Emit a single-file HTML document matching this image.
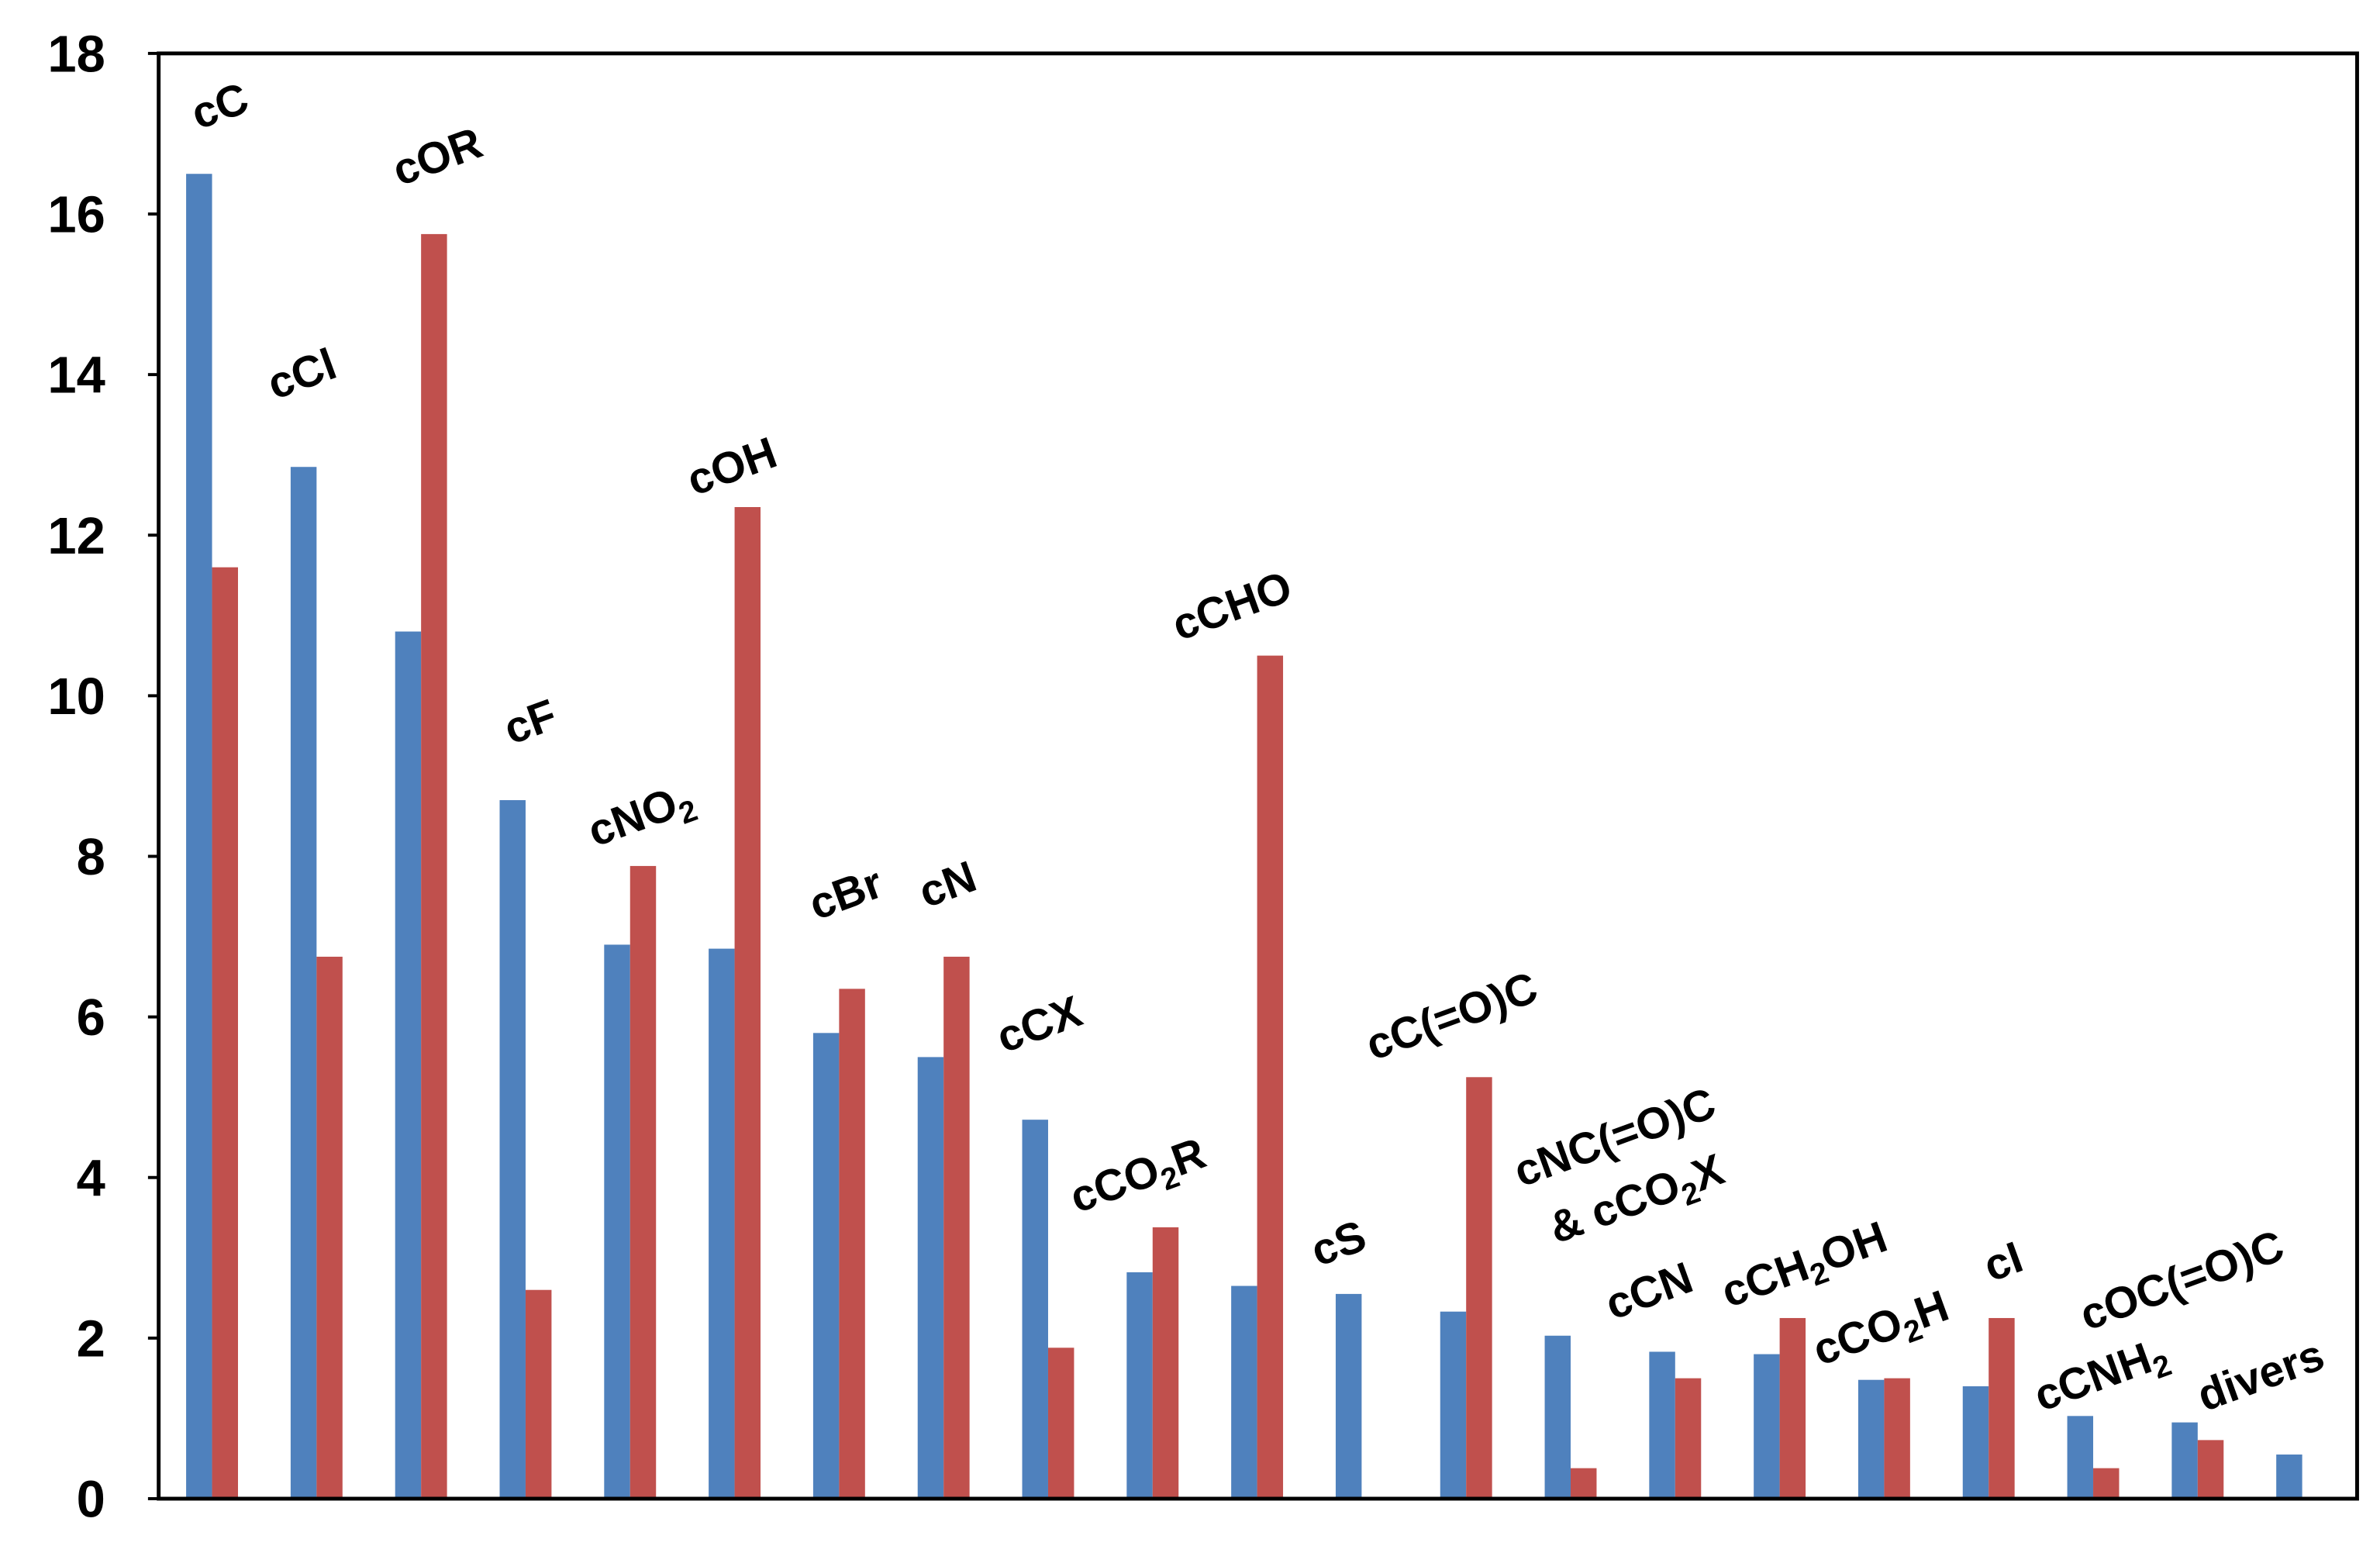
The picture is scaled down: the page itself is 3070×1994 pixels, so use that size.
<!DOCTYPE html>
<html><head><meta charset="utf-8"><style>
html,body{margin:0;padding:0;background:#fff;}
svg{display:block;font-family:"Liberation Sans",sans-serif;font-weight:bold;}
</style></head><body>
<svg id="chart" width="3070" height="1994" viewBox="0 0 1560 1013" preserveAspectRatio="none">
<g id="bars"></g>
<g id="yticks"></g>
<g id="labels"></g>
<rect x="104" y="35" width="1441" height="947" fill="none" stroke="#000" stroke-width="2.5"/>
</svg>
<script>
const categories=["cC","cCl","cOR","cF","cNO2","cOH","cBr","cN","cCX","cCO2R","cCHO","cS","cC(=O)C","cNC(=O)C & cCO2X","cCN","cCH2OH","cCO2H","cI","cCNH2","cOC(=O)C","divers"];
const blueValues=[16.5,12.85,10.8,8.7,6.9,6.85,5.8,5.5,4.72,2.82,2.65,2.55,2.33,2.03,1.83,1.8,1.48,1.4,1.03,0.95,0.55];
const redValues=[11.6,6.75,15.75,2.6,7.88,12.35,6.35,6.75,1.88,3.38,10.5,0,5.25,0.38,1.5,2.25,1.5,2.25,0.38,0.73,0];
const yTicks=[0,2,4,6,8,10,12,14,16,18];
const labelTexts=['cC','cCl','cOR','cF','cNO<tspan font-size="20" dy="6">2</tspan>','cOH','cBr','cN','cCX','cCO<tspan font-size="20" dy="6">2</tspan><tspan dy="-6">R</tspan>','cCHO','cS','cC(=O)C','cNC(=O)C','cCN','cCH<tspan font-size="20" dy="6">2</tspan><tspan dy="-6">OH</tspan>','cCO<tspan font-size="20" dy="6">2</tspan><tspan dy="-6">H</tspan>','cI','cCNH<tspan font-size="20" dy="6">2</tspan>','cOC(=O)C','divers','&amp; cCO<tspan font-size="20" dy="6">2</tspan><tspan dy="-6">X</tspan>'];
const labelX=[130,180,262,335,390,455,535,607,658,706,773,864,900,997,1057,1133,1193,1305,1338,1368,1445,1020];
const labelY=[85,262,122,488,555,325,603,595,690,795,420,830,695,778,865,857,895,840,925,872,925,815];

const NS="http://www.w3.org/2000/svg";
const x0=122, step=68.5, bw=17;
const yScale=v=>982-v*(947/18);
const xScale=i=>x0+i*step;
const bars=document.getElementById('bars');
categories.forEach((c,i)=>{
  [[blueValues[i],'#4F81BD',0,'blue'],[redValues[i],'#C0504D',bw,'red']].forEach(([v,col,off,s])=>{
    if(v<=0)return;
    const r=document.createElementNS(NS,'rect');
    r.setAttribute('x',xScale(i)+off);r.setAttribute('width',bw);
    r.setAttribute('y',yScale(v));r.setAttribute('height',982-yScale(v));
    r.setAttribute('fill',col);
    
    
    bars.appendChild(r);
  });
});
const yt=document.getElementById('yticks');
yTicks.forEach(t=>{
  const tx=document.createElementNS(NS,'text');
  tx.setAttribute('x',69);tx.setAttribute('y',yScale(t)+12);
  tx.setAttribute('text-anchor','end');tx.setAttribute('font-size','34');
  tx.textContent=t;
  
  
  yt.appendChild(tx);
  const l=document.createElementNS(NS,'line');
  l.setAttribute('x1',97);l.setAttribute('x2',104);l.setAttribute('y1',yScale(t));l.setAttribute('y2',yScale(t));
  l.setAttribute('stroke','#000');l.setAttribute('stroke-width','2');
  
  
  yt.appendChild(l);
});
const lg=document.getElementById('labels');
labelTexts.forEach((h,i)=>{
  const tx=document.createElementNS(NS,'text');
  tx.setAttribute('font-size','29');
  tx.setAttribute('transform','translate('+labelX[i]+','+labelY[i]+') rotate(-20)');
  tx.innerHTML=h;
  
  
  lg.appendChild(tx);
});
</script>
</body></html>
